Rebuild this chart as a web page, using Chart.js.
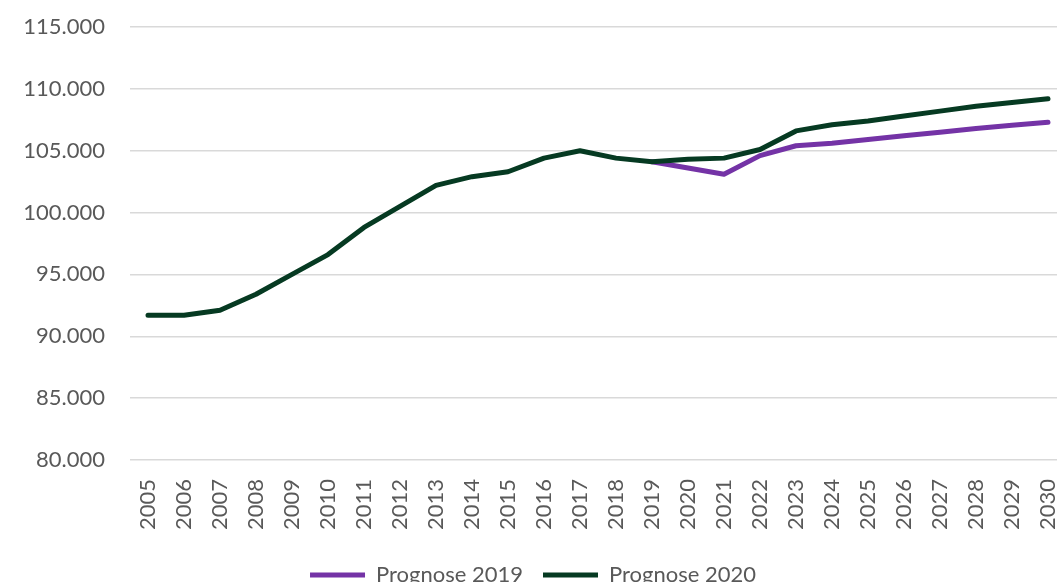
<!DOCTYPE html>
<html>
<head>
<meta charset="utf-8">
<script src="https://cdn.jsdelivr.net/npm/chart.js@4/dist/chart.umd.min.js"></script>
<style>
  html, body { margin: 0; padding: 0; background: #fff; overflow: hidden; }
  #wrap { position: absolute; left: 0; top: 0; width: 1066px; height: 596px; }
</style>
</head>
<body>
<div id="wrap"><canvas id="chart"></canvas></div>
<script>
const years = ["2005","2006","2007","2008","2009","2010","2011","2012","2013","2014","2015","2016","2017",
               "2018","2019","2020","2021","2022","2023","2024","2025","2026","2027","2028","2029","2030"];

// Prognose 2019 (only drawn from 2019 on, history is shared with 2020)
const prognose2019 = [null,null,null,null,null,null,null,null,null,null,null,null,null,
                      null,104100,103600,103100,104600,105400,105600,105900,106200,106500,106800,107050,107300];

const prognose2020 = [91700,91700,92100,93400,95000,96600,98800,100500,102200,102900,103300,104400,105000,
                      104400,104100,104300,104400,105100,106600,107100,107400,107800,108200,108600,108900,109200];

const yTicks = [80000, 85000, 90000, 95000, 100000, 105000, 110000, 115000];

const grey = "#595959";
const fontFam = "Lato, 'Open Sans', sans-serif";

function fmt(v) {
    return String(v).replace(/\B(?=(\d{3})+(?!\d))/g, ".");
}

new Chart(document.getElementById("chart"), {
    type: "line",
    data: {
        labels: years,
        datasets: [
            {
                label: "Prognose 2020",
                data: prognose2020,
                borderColor: "#063a22",
                backgroundColor: "#063a22",
                borderWidth: 5,
                pointRadius: 0,
                tension: 0,
                borderCapStyle: "round",
                borderJoinStyle: "round",
                order: 1
            },
            {
                label: "Prognose 2019",
                data: prognose2019,
                borderColor: "#7433a6",
                backgroundColor: "#7433a6",
                borderWidth: 5,
                pointRadius: 0,
                tension: 0,
                borderCapStyle: "round",
                borderJoinStyle: "round",
                order: 2
            }
        ]
    },
    options: {
        responsive: true,
        maintainAspectRatio: false,
        animation: false,
        layout: { padding: { top: 27, right: 0, left: 0, bottom: 0 } },
        plugins: {
            tooltip: { enabled: false },
            legend: {
                position: "bottom",
                reverse: true,
                labels: {
                    usePointStyle: true,
                    pointStyle: "line",
                    pointStyleWidth: 55,
                    color: grey,
                    font: { family: fontFam, size: 22 },
                    padding: 20
                }
            }
        },
        scales: {
            x: {
                offset: true,
                grid: { display: false },
                border: { display: false },
                afterFit: axis => {
                    axis.height += 3;
                    axis.paddingLeft = 0;
                    axis.paddingRight = 0;
                },
                ticks: {
                    minRotation: 90,
                    maxRotation: 90,
                    autoSkip: false,
                    padding: 11,
                    color: grey,
                    font: { family: fontFam, size: 22 }
                }
            },
            y: {
                min: 80000,
                max: 115000,
                afterBuildTicks: axis => { axis.ticks = yTicks.map(v => ({ value: v })); },
                afterFit: axis => {
                    axis.width = 130;
                    axis.paddingTop = 0;
                    axis.paddingBottom = 0;
                },
                grid: { color: "#d9d9d9", lineWidth: 1.5, drawTicks: false },
                border: { display: false },
                ticks: {
                    padding: 25,
                    color: grey,
                    font: { family: fontFam, size: 22 },
                    callback: v => fmt(v)
                }
            }
        }
    }
});
</script>
</body>
</html>
